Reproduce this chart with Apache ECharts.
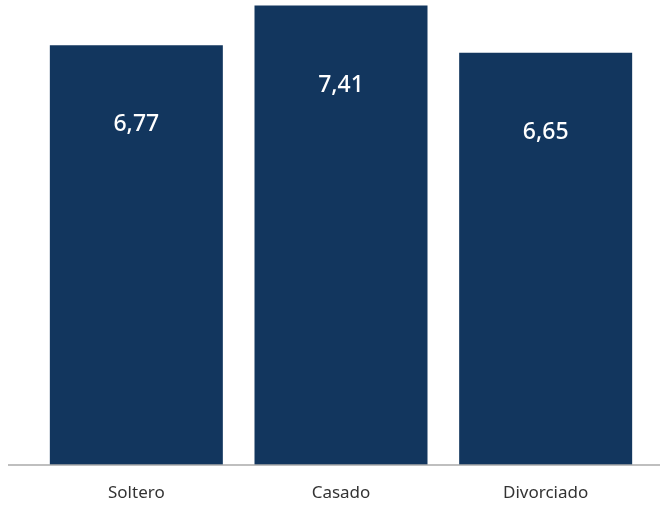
<!DOCTYPE html>
<html>
<head>
<meta charset="utf-8">
<script src="https://cdn.jsdelivr.net/npm/echarts@6/dist/echarts.min.js"></script>
<style>
  html, body { margin: 0; padding: 0; background: #fff; }
  #chart { width: 669px; height: 506px; }
</style>
</head>
<body>
<div id="chart"></div>
<script>
    var categories = ['Soltero', 'Casado', 'Divorciado'];
    var values = [6.77, 7.41, 6.65];

    var myChart = echarts.init(document.getElementById('chart'));
    var option = {
        animation: false,
        grid: { left: 34, right: 21, top: 0, bottom: 41 },
        xAxis: {
            type: 'category',
            data: categories,
            axisLine: { show: false },
            axisTick: { show: false },
            axisLabel: {
                margin: 20,
                fontSize: 17,
                color: '#333',
                fontFamily: 'Noto Sans'
            }
        },
        yAxis: {
            type: 'value',
            min: 0,
            max: 7.5,
            show: false
        },
        graphic: [{
            type: 'line',
            shape: { x1: 8, y1: 465, x2: 660, y2: 465 },
            style: { stroke: '#aaaaaa', lineWidth: 1.5 },
            z: 10
        }],
        series: [{
            type: 'bar',
            data: values,
            barWidth: 173,
            itemStyle: { color: '#12365e' },
            label: {
                show: true,
                position: 'insideTop',
                distance: 68,
                color: '#fff',
                fontSize: 23,
                fontWeight: 500,
                fontFamily: 'Noto Sans',
                formatter: function (p) {
                    return p.value.toFixed(2).replace('.', ',');
                }
            }
        }]
    };
    myChart.setOption(option);
</script>
</body>
</html>
